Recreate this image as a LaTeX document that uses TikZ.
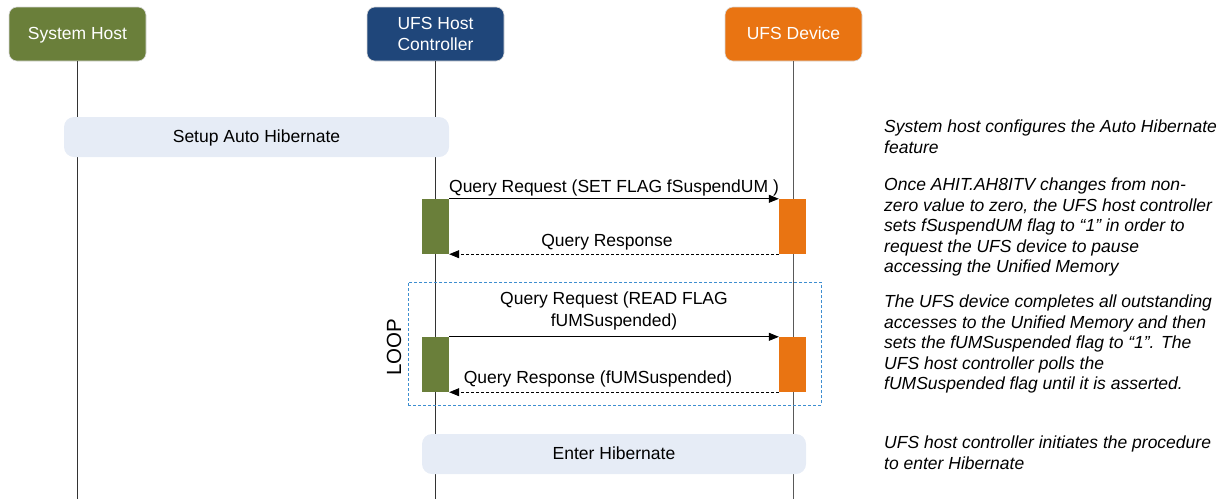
\documentclass[tikz,border=0pt]{standalone}
\usepackage{fontspec}
\setmainfont{Liberation Sans}
\usetikzlibrary{arrows.meta}

\definecolor{hostgreen}{HTML}{6A7F3A}
\definecolor{ctrlblue}{HTML}{1F467A}
\definecolor{devorange}{HTML}{E97412}
\definecolor{phasefill}{HTML}{E6ECF6}
\definecolor{loopblue}{HTML}{3E8ED0}

\tikzset{
  actor/.style={rectangle, rounded corners=8pt, minimum width=137pt, minimum height=54pt,
                text=white, align=center, inner sep=0pt, draw=white!85!black, line width=0.6pt},
  oneline/.style={text height=12.6pt, text depth=1pt},
  lifeline/.style={draw=black!80, line width=0.8pt},
  phase/.style={rectangle, rounded corners=10pt, fill=phasefill, minimum height=40pt, inner sep=0pt,
                text height=12.6pt, text depth=2pt},
  actbar/.style={rectangle, minimum width=27pt, minimum height=55pt, inner sep=0pt},
  msg/.style={-{Triangle[length=10pt,width=8pt]}, line width=0.8pt},
  reply/.style={msg, dash pattern=on 3pt off 2pt},
  msglabel/.style={anchor=base, inner sep=0pt},
  sidenote/.style={anchor=north west, inner sep=0pt, align=left,
                   font=\fontsize{17.5}{20.5}\selectfont\itshape},
  loopframe/.style={draw=loopblue, line width=0.8pt, dash pattern=on 3pt off 2pt}
}

\begin{document}
\begin{tikzpicture}[x=1pt, y=-1pt, font=\fontsize{17.5}{21}\selectfont]
\useasboundingbox (0,0) rectangle (1225,499);

% participants
\node[actor, oneline, fill=hostgreen] (sys) at (77.5,34) {System Host};
\node[actor, fill=ctrlblue] (ctrl) at (435.5,34) {UFS Host\\Controller};
\node[actor, oneline, fill=devorange] (dev) at (793.5,34) {UFS Device};

% lifelines
\coordinate (sysend) at (77.5,499);
\coordinate (ctrlend) at (435.5,499);
\coordinate (devend) at (793.5,499);
\draw[lifeline] (sys.south) -- (sysend);
\draw[lifeline] (ctrl.south) -- (ctrlend);
\draw[lifeline, draw=black!65] (dev.south) -- (devend);

% phases spanning lifelines
\node[phase, minimum width=385pt] (setup) at (256.5,137) {Setup Auto Hibernate};
\node[phase, minimum width=384pt] (enter) at (614,454) {Enter Hibernate};

% first request / response
\node[actbar, fill=hostgreen] (a1) at (435.5,226.5) {};
\node[actbar, fill=devorange] (b1) at (792.5,226.5) {};
\draw[msg] (a1.north east) -- (b1.north west);
\draw[reply] (b1.south west) -- (a1.south east);
\node[msglabel] (q1) at (614,192) {Query Request (SET FLAG fSuspendUM )};
\node[msglabel] (r1) at (607,246) {Query Response};

% polling loop
\node[loopframe, rectangle, minimum width=413pt, minimum height=123pt, inner sep=0pt] (loop) at (614.5,343.5) {};
\node[rotate=90, font=\fontsize{20.5}{24}\selectfont] (looplbl) at (394,347) {LOOP};
\node[actbar, fill=hostgreen] (a2) at (435.5,364.5) {};
\node[actbar, fill=devorange] (b2) at (792.5,364.5) {};
\draw[msg] (a2.north east) -- (b2.north west);
\draw[reply] (b2.south west) -- (a2.south east);
\node[msglabel] (q2a) at (614,304) {Query Request (READ FLAG};
\node[msglabel] (q2b) at (614,326) {fUMSuspended)};
\node[msglabel] (r2) at (598,383) {Query Response (fUMSuspended)};

% descriptions
\node[sidenote] (n1) at (884,120) {System host configures the Auto Hibernate\\feature};
\node[sidenote] (n2) at (884,178) {Once AHIT.AH8ITV changes from non-\\zero value to zero, the UFS host controller\\sets fSuspendUM flag to “1” in order to\\request the UFS device to pause\\accessing the Unified Memory};
\node[sidenote] (n3) at (884,295) {The UFS device completes all outstanding\\accesses to the Unified Memory and then\\sets the fUMSuspended flag to “1”. The\\UFS host controller polls the\\fUMSuspended flag until it is asserted.};
\node[sidenote] (n4) at (884,436) {UFS host controller initiates the procedure\\to enter Hibernate};
\end{tikzpicture}
\end{document}
